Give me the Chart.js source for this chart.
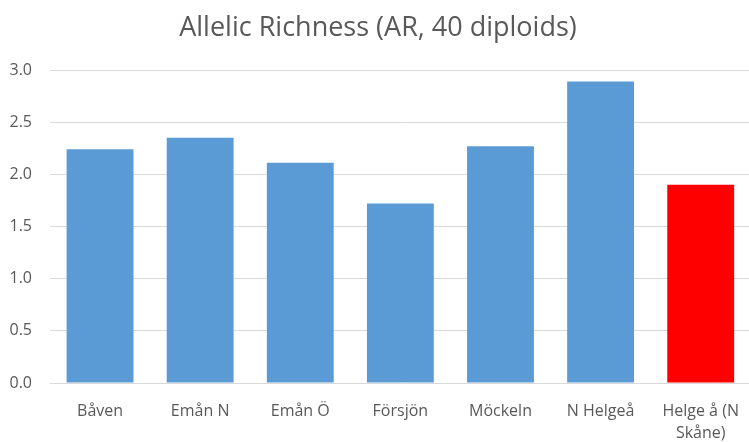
<!DOCTYPE html>
<html>
<head>
<meta charset="utf-8">
<script src="https://cdn.jsdelivr.net/npm/chart.js@4/dist/chart.umd.min.js"></script>
<style>
  html, body { margin: 0; padding: 0; background: #ffffff; overflow: hidden; }
  #wrap { position: relative; width: 757px; height: 442px; }
</style>
</head>
<body>
<div id="wrap"><canvas id="c"></canvas></div>
<script>
// ---- data ----
const categories = ['Båven', 'Emån N', 'Emån Ö', 'Försjön', 'Möckeln', 'N Helgeå', 'Helge å (N Skåne)'];
const tickLabels = ['Båven', 'Emån N', 'Emån Ö', 'Försjön', 'Möckeln', 'N Helgeå', ['Helge å (N', 'Skåne)']];
const allelicRichness = [2.24, 2.35, 2.11, 1.72, 2.27, 2.89, 1.90];
const highlighted = ['Helge å (N Skåne)'];
const yTicks = [0, 0.5, 1.0, 1.5, 2.0, 2.5, 3.0];
const chartTitle = 'Allelic Richness (AR, 40 diploids)';

// ---- styles ----
const FONT = "'Open Sans', 'Liberation Sans', sans-serif";
const TEXT = '#595959';
const GRID = '#D9D9D9';
const BLUE = '#5B9BD5';
const RED = '#FF0000';

new Chart(document.getElementById('c'), {
  type: 'bar',
  data: {
    labels: categories,
    datasets: [{
      data: allelicRichness,
      backgroundColor: categories.map(c => highlighted.includes(c) ? RED : BLUE),
      borderWidth: 0,
      categoryPercentage: 1.0,
      barPercentage: 0.668
    }]
  },
  options: {
    responsive: true,
    maintainAspectRatio: false,
    animation: false,
    layout: { padding: { left: 0, right: 1, top: 0, bottom: 0 } },
    plugins: {
      legend: { display: false },
      tooltip: { enabled: false },
      title: {
        display: true,
        text: chartTitle,
        color: TEXT,
        font: { family: FONT, size: 27, weight: 'normal', lineHeight: 1.2 },
        padding: { top: 12, bottom: 25.6 }
      }
    },
    scales: {
      x: {
        afterFit: s => { s.height = 59; },
        grid: { display: false, drawTicks: false },
        border: { display: true, color: GRID, width: 1 },
        ticks: {
          color: TEXT,
          font: { family: FONT, size: 16, lineHeight: 1.35 },
          padding: 18,
          maxRotation: 0,
          autoSkip: false,
          callback: (v, i) => tickLabels[i]
        }
      },
      y: {
        min: 0,
        max: 3,
        afterFit: s => { s.width = 50; },
        afterBuildTicks: s => { s.ticks = yTicks.map(v => ({ value: v })); },
        grid: { color: GRID, lineWidth: 1, drawTicks: false },
        border: { display: false },
        ticks: {
          color: TEXT,
          font: { family: FONT, size: 16 },
          padding: 18,
          callback: v => Number(v).toFixed(1)
        }
      }
    }
  }
});
</script>
</body>
</html>
